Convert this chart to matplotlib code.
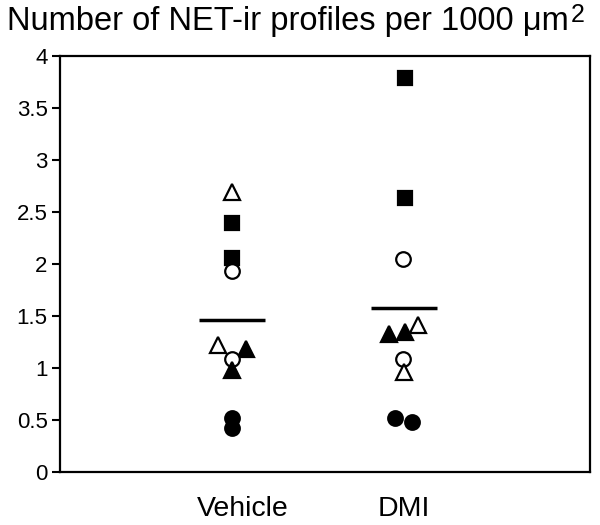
import matplotlib
matplotlib.use("Agg")
import matplotlib.pyplot as plt

plt.rcParams['font.family'] = ['Liberation Sans', 'DejaVu Sans']

categories = ["Vehicle", "DMI"]
title_main = "Number of NET-ir profiles per 1000 μm"
title_sup = "2"
yticks = [0, 0.5, 1, 1.5, 2, 2.5, 3, 3.5, 4]
ytick_labels = ["0", "0.5", "1", "1.5", "2", "2.5", "3", "3.5", "4"]

# (jitter offset, value, marker, filled)
vehicle_points = [
    (0.0, 2.69, '^', False),
    (0.0, 2.39, 's', True),
    (0.0, 2.06, 's', True),
    (0.0, 1.93, 'o', False),
    (-0.081, 1.22, '^', False),
    (0.081, 1.18, '^', True),
    (0.0, 1.09, 'o', False),
    (0.0, 0.98, '^', True),
    (0.0, 0.52, 'o', True),
    (0.0, 0.42, 'o', True),
]
dmi_points = [
    (0.006, 3.79, 's', True),
    (0.006, 2.63, 's', True),
    (-0.006, 2.05, 'o', False),
    (-0.087, 1.33, '^', True),
    (0.006, 1.345, '^', True),
    (0.081, 1.41, '^', False),
    (-0.006, 1.09, 'o', False),
    (0.0, 0.96, '^', False),
    (-0.052, 0.52, 'o', True),
    (0.045, 0.485, 'o', True),
]
mean_values = [1.465, 1.577]

fig = plt.figure(figsize=(6, 5.25), dpi=100)
ax = fig.add_axes([60/600, 1 - 472/525, 530/600, 416/525])

sizes = {'o': 10.5, 's': 9.5, '^': 12.0}
for ci, pts in enumerate([vehicle_points, dmi_points]):
    xc = ci + 1
    for dx, v, m, filled in pts:
        ax.plot(xc + dx, v, marker=m, markersize=sizes[m], linestyle='none',
                markerfacecolor='black' if filled else 'white',
                markeredgecolor='black', markeredgewidth=1.6, zorder=3)
    ax.plot([xc - 0.19, xc + 0.19], [mean_values[ci], mean_values[ci]],
            color='black', linewidth=2.5, zorder=2, solid_capstyle='butt')

ax.set_xlim(0, 3.08)
ax.set_ylim(0, 4)
ax.set_yticks(yticks)
ax.set_yticklabels(ytick_labels, fontsize=16)
ax.set_xticks([1.06, 2.0])
ax.set_xticklabels(categories, fontsize=20.5)
ax.tick_params(axis='x', length=0, pad=17)
ax.tick_params(axis='y', length=6, width=1.5, direction='out', pad=3)
for s in ax.spines.values():
    s.set_linewidth(1.6)

t = fig.text(7/600, 1 - 30/525, title_main, fontsize=23.5, ha='left', va='baseline')
fig.canvas.draw()
bb = t.get_window_extent(renderer=fig.canvas.get_renderer())
fig.text(bb.x1 / 600 + 2/600, 1 - 22/525, title_sup, fontsize=18, ha='left', va='baseline')

fig.savefig("out.png", dpi=100)
